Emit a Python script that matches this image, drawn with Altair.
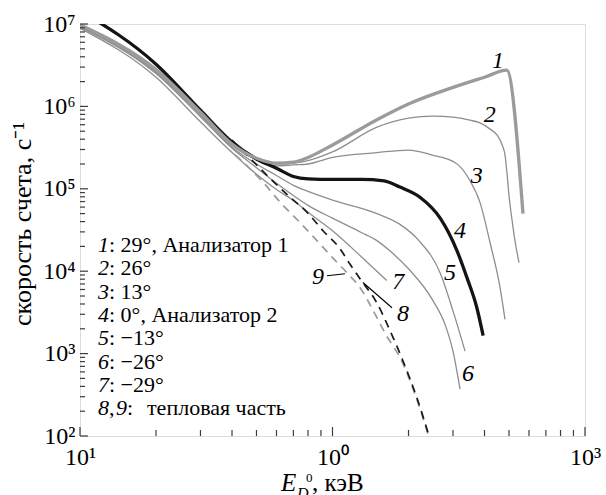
import altair as alt
import pandas as pd

# Energy E (keV) and count rate N (1/s) for every curve
E1 = [0.1, 0.2, 0.3, 0.4, 0.5, 0.6, 0.7, 0.8, 1.0, 1.5, 2.0, 3.0, 4.0, 4.9, 5.68]
N1 = [9.8e6, 2.8e6, 8.5e5, 3.5e5, 2.35e5, 2.05e5, 2.1e5, 2.4e5, 3.4e5, 6.9e5, 1.07e6, 1.7e6, 2.26e6, 2.75e6, 5.0e4]

E2 = [0.1, 0.2, 0.3, 0.4, 0.5, 0.6, 0.7, 0.8, 1.0, 1.5, 2.0, 2.5, 3.0, 3.5, 3.84, 4.21, 4.48, 4.7, 4.82, 4.91, 5.0, 5.14, 5.28, 5.48]
N2 = [9.7e6, 2.75e6, 8.3e5, 3.4e5, 2.3e5, 2.0e5, 2.05e5, 2.2e5, 2.8e5, 5.6e5, 7.2e5, 7.6e5, 7.4e5, 6.8e5, 6.3e5, 5.3e5, 4.5e5, 3.4e5, 2.6e5, 1.55e5, 8.3e4, 4.2e4, 2.35e4, 1.27e4]

E3 = [0.1, 0.2, 0.3, 0.4, 0.5, 0.6, 0.7, 0.8, 1.0, 1.5, 2.0, 2.5, 3.0, 3.2, 3.5, 3.84, 4.21, 4.61, 4.82]
N3 = [9.6e6, 2.7e6, 8.2e5, 3.35e5, 2.25e5, 1.9e5, 1.95e5, 2.0e5, 2.4e5, 2.75e5, 2.95e5, 2.55e5, 2.15e5, 1.86e5, 1.26e5, 6.8e4, 2.2e4, 6.3e3, 2.6e3]

E4 = [0.1, 0.2, 0.3, 0.4, 0.5, 0.6, 0.7, 0.8, 1.0, 1.3, 1.6, 1.85, 2.22, 2.67, 3.11, 3.41, 3.73, 3.95]
N4 = [1.45e7, 3.25e6, 9.0e5, 3.7e5, 2.3e5, 1.78e5, 1.41e5, 1.32e5, 1.3e5, 1.3e5, 1.25e5, 1.05e5, 7.9e4, 4.4e4, 1.78e4, 8.3e3, 3.6e3, 1.65e3]

E5 = [0.1, 0.2, 0.3, 0.4, 0.5, 0.6, 0.7, 0.8, 1.0, 1.5, 1.85, 2.2, 2.67, 3.0, 3.35]
N5 = [9.4e6, 2.6e6, 7.8e5, 3.2e5, 2.0e5, 1.45e5, 1.1e5, 9.3e4, 7.3e4, 5.0e4, 3.7e4, 2.35e4, 9.5e3, 3.3e3, 1.07e3]

E6 = [0.1, 0.2, 0.3, 0.4, 0.5, 0.6, 0.7, 0.8, 1.0, 1.3, 1.5, 1.7, 2.0, 2.5, 2.8, 3.0, 3.2]
N6 = [9.2e6, 2.5e6, 7.5e5, 3.1e5, 1.8e5, 1.17e5, 8.3e4, 6.3e4, 4.4e4, 2.95e4, 2.35e4, 1.73e4, 1.07e4, 4.4e3, 2.2e3, 1.07e3, 370]

E7 = [0.1, 0.2, 0.3, 0.4, 0.5, 0.6, 0.7, 0.8, 1.0, 1.3, 1.64]
N7 = [8.9e6, 2.26e6, 6.5e5, 2.75e5, 1.5e5, 9.8e4, 7.2e4, 5.2e4, 3.1e4, 1.5e4, 7.7e3]

# thermal part
E8 = [0.40, 0.471, 0.566, 0.679, 0.792, 0.917, 1.07, 1.17, 1.285, 1.50, 1.69, 1.90, 2.16, 2.39]
N8 = [3.9e5, 2.35e5, 1.34e5, 7.9e4, 5.2e4, 3.1e4, 1.88e4, 1.23e4, 8.1e3, 4.1e3, 1.9e3, 820, 290, 110]

E9 = [0.393, 0.531, 0.637, 0.743, 0.868, 1.0, 1.14, 1.31, 1.43, 1.61, 1.90, 2.16, 2.39]
N9 = [2.95e5, 1.2e5, 6.3e4, 3.9e4, 2.35e4, 1.46e4, 9.6e3, 5.8e3, 3.6e3, 1.8e3, 760, 275, 105]

# curve numbers placed next to the curves
LABEL_TEXT = ["1", "2", "3", "4", "5", "6", "7", "8", "9"]
LABEL_E = [4.52, 4.2, 3.73, 3.2, 2.92, 3.44, 1.82, 1.90, 0.876]
LABEL_N = [3.6e6, 7.8e5, 1.45e5, 3.1e4, 9.5e3, 570, 7.3e3, 3.0e3, 8.5e3]

# leader strokes for labels 9 and 8
LEAD_ID = ["9", "9", "8", "8"]
LEAD_E = [0.951, 1.12, 1.32, 1.72]
LEAD_N = [8.8e3, 9.3e3, 7.3e3, 3.6e3]

# key text
KEY_NUM = ["1", "2", "3", "4", "5", "6", "7"]
KEY_TEXT = [": 29°, Анализатор 1", ": 26°", ": 13°", ": 0°, Анализатор 2",
            ": −13°", ": −26°", ": −29°"]
KEY_LAST = ["8", ",", "9", ":", "тепловая часть"]

# axes
X_TICKS = [0.1, 1, 10]
X_TICK_LABELS = ["10¹", "10⁰", "10³"]
Y_TICKS = [1e2, 1e3, 1e4, 1e5, 1e6, 1e7]
Y_TICK_LABELS = ["10²", "10³", "10⁴", "10⁵", "10⁶", "10⁷"]
Y_TITLE = "скорость счета, с⁻¹"

W, H = 505, 412
SERIF = "Liberation Serif"
FRAME = "#3c3c3c"

curves = {"1": (E1, N1), "2": (E2, N2), "3": (E3, N3), "4": (E4, N4), "5": (E5, N5),
          "6": (E6, N6), "7": (E7, N7), "8": (E8, N8), "9": (E9, N9)}
rows = []
for cid, (ee, nn) in curves.items():
    for i, (e, n) in enumerate(zip(ee, nn)):
        rows.append({"curve": cid, "E": e, "N": n, "i": i})
df = pd.DataFrame(rows)


def ternary(values, labels):
    expr = "''"
    for v, lab in reversed(list(zip(values, labels))):
        expr = f"abs(datum.value - {v}) < {v} * 1e-6 ? '{lab}' : ({expr})"
    return expr


xs = alt.Scale(type="log", domain=[0.1, 10])
ys = alt.Scale(type="log", domain=[1e2, 1e7])
x_axis = alt.Axis(values=X_TICKS, labelExpr=ternary(X_TICKS, X_TICK_LABELS), title=None,
                  grid=False, ticks=False, tickSize=0, domain=False, labelFont=SERIF,
                  labelFontSize=24, labelColor="black", labelPadding=9, labelFlush=False,
                  labelOverlap=False)
y_axis = alt.Axis(values=Y_TICKS, labelExpr=ternary(Y_TICKS, Y_TICK_LABELS), title=None,
                  grid=False, ticks=False, tickSize=0, domain=False, labelFont=SERIF,
                  labelFontSize=24, labelColor="black", labelPadding=5, labelFlush=False,
                  labelOverlap=False)


def xy(xf, yf):
    return dict(x=alt.X(xf, scale=xs, axis=x_axis), y=alt.Y(yf, scale=ys, axis=y_axis))


def curve_layer(ids, **mark):
    return (alt.Chart(df)
            .transform_filter(alt.FieldOneOfPredicate(field="curve", oneOf=ids))
            .mark_line(clip=True, interpolate="monotone", **mark)
            .encode(**xy("E:Q", "N:Q"), detail="curve:N", order="i:Q"))


thin = curve_layer(["2", "3", "5", "6", "7"], color="#8e8e8e", strokeWidth=1.3)
dash9 = curve_layer(["9"], color="#9a9a9a", strokeWidth=1.7, strokeDash=[8, 6], strokeDashOffset=7)
dash8 = curve_layer(["8"], color="#1a1a1a", strokeWidth=1.7, strokeDash=[8, 6])
thick4 = curve_layer(["4"], color="#141414", strokeWidth=3.3)
thick1 = curve_layer(["1"], color="#9b9b9b", strokeWidth=3.3)

# inward tick marks
minor_y = [k * 10 ** d for d in range(2, 7) for k in range(2, 10)]
minor_x = [k * 10 ** d for d in (-1, 0) for k in range(2, 10)]
tick_layers = []
for vals, length in ((Y_TICKS, 8), (minor_y, 5)):
    tick_layers.append(alt.Chart(pd.DataFrame({"v": vals})).mark_rule(color=FRAME, strokeWidth=1.2)
                       .encode(y=alt.Y("v:Q", scale=ys, axis=y_axis), x=alt.value(0), x2=alt.value(length)))
for vals, length in ((X_TICKS, 9), (minor_x, 6)):
    tick_layers.append(alt.Chart(pd.DataFrame({"v": vals})).mark_rule(color=FRAME, strokeWidth=1.2)
                       .encode(x=alt.X("v:Q", scale=xs, axis=x_axis), y=alt.value(H), y2=alt.value(H - length)))

labels = (alt.Chart(pd.DataFrame({"t": LABEL_TEXT, "E": LABEL_E, "N": LABEL_N}))
          .mark_text(font=SERIF, fontSize=24, fontStyle="italic", color="black",
                     align="center", baseline="middle")
          .encode(**xy("E:Q", "N:Q"), text="t:N"))

leaders = (alt.Chart(pd.DataFrame({"id": LEAD_ID, "E": LEAD_E, "N": LEAD_N}))
           .mark_line(color="black", strokeWidth=1.1)
           .encode(**xy("E:Q", "N:Q"), detail="id:N"))


def text_at(t, px, py, size, italic=False, **kw):
    style = dict(font=SERIF, fontSize=size, color="black", align="left", baseline="middle")
    style.update(kw)
    if italic:
        style["fontStyle"] = "italic"
    return (alt.Chart(pd.DataFrame({"t": [t]})).mark_text(**style)
            .encode(text="t:N", x=alt.value(px), y=alt.value(py)))


# key block in the lower left corner
key_layers = []
row_y = [221 + 23.3 * k for k in range(8)]
for k, (num, txt) in enumerate(zip(KEY_NUM, KEY_TEXT)):
    key_layers.append(text_at(num, 18, row_y[k], 22, italic=True))
    key_layers.append(text_at(txt, 29, row_y[k], 22))
for piece, px, it in zip(KEY_LAST, [18, 29, 36, 47, 67], [True, False, True, False, False]):
    key_layers.append(text_at(piece, px, row_y[7], 22, italic=it))

# axis titles
titles = [
    text_at(Y_TITLE, -57, 200, 26, angle=270, align="center"),
    text_at("E", 201, 467, 25, italic=True, baseline="alphabetic"),
    text_at("D", 217, 475, 16, italic=True, baseline="alphabetic"),
    text_at("0", 226, 458, 13, baseline="alphabetic"),
    text_at(", кэВ", 232, 467, 25, baseline="alphabetic"),
]

chart = alt.layer(
    thin, dash9, dash8, thick4, thick1, *tick_layers, labels, leaders, *key_layers, *titles
).properties(
    width=W, height=H,
    autosize=alt.AutoSizeParams(type="none"),
    padding={"left": 80, "top": 24, "right": 21, "bottom": 59},
).configure_view(stroke=FRAME, strokeWidth=1.4).configure(background="white")

chart.save("out.html", embed_options={"renderer": "svg", "actions": False})
